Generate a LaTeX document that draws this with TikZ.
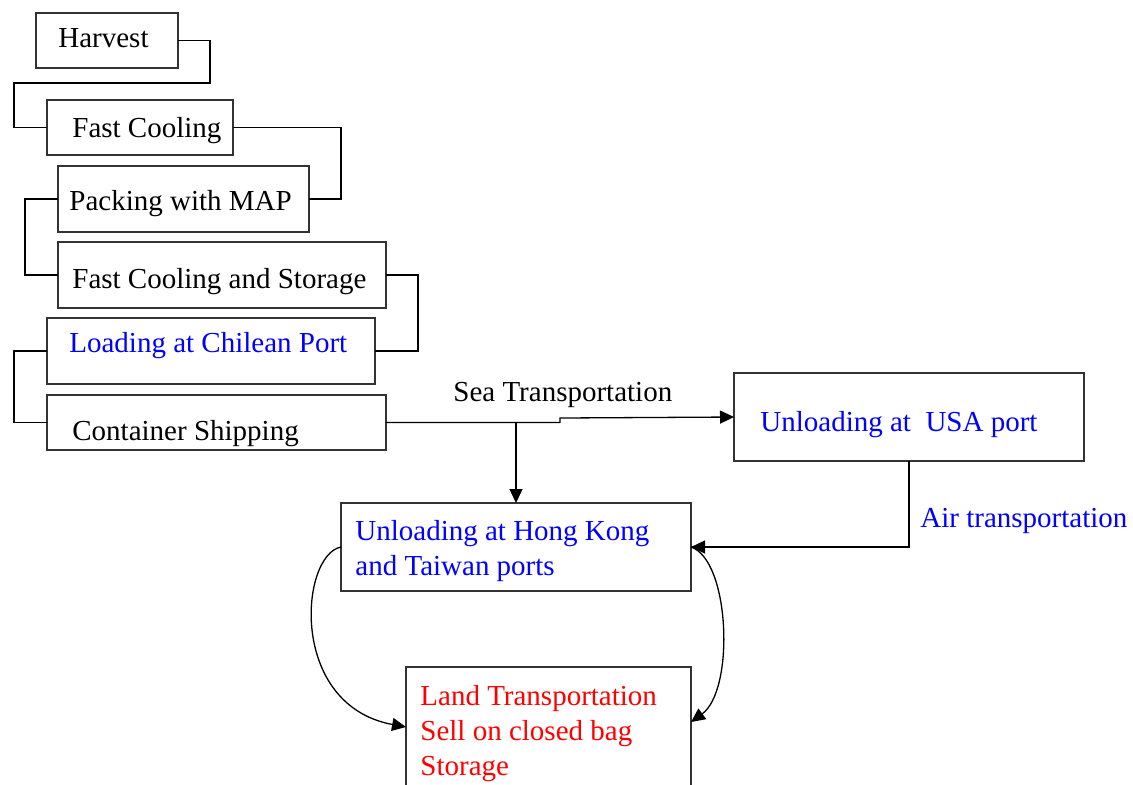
\documentclass[tikz,border=0pt]{standalone}
\usepackage{fontspec}
\setmainfont{Liberation Serif}
\usetikzlibrary{arrows.meta}
\tikzset{
	box/.style={draw=black!80, line width=0.65pt, inner sep=0pt, outer sep=0pt},
	lbl/.style={anchor=base west, inner sep=0pt, font=\fontsize{14.5}{17}\selectfont},
	link/.style={line width=0.65pt},
	arr/.style={link, -{Triangle[length=7pt,width=6.5pt]}}
}
\def\stage(#1)(#2,#3:#4,#5){\node[box, minimum width={(#4-#2)*0.5pt}, minimum height={(#5-#3)*0.5pt}] (#1) at ({(#2+#4)/2},{(#3+#5)/2}) {};}

\begin{document}
\begin{tikzpicture}[x=0.5pt, y=-0.5pt]
		%%%%% START %%%%%
		\useasboundingbox (0,0) rectangle (1133,784);
		
		\stage(harvest)(36,13:178,68);
		\stage(fastcool)(47,100:233,155);
		\stage(packing)(58,166:309,232);
		\stage(coolstore)(58,242:386,308);
		\stage(loading)(47,318:375,384);
		\stage(shipping)(47,395:386,450);
		\stage(usa)(734,373:1084,461);
		\stage(hk)(341,503:691,591);
		\stage(land)(406,667:691,800);
		
		\node[lbl] (t-harvest) at (58,47) {Harvest};
		\node[lbl] (t-fastcool) at (72,137) {Fast Cooling};
		\node[lbl] (t-packing) at (69,210) {Packing with MAP};
		\node[lbl] (t-coolstore) at (72,288) {Fast Cooling and Storage};
		\node[lbl, blue] (t-loading) at (69,352) {Loading at Chilean Port};
		\node[lbl] (t-shipping) at (72,440) {Container Shipping};
		\node[lbl, blue] (t-usa) at (760,431) {Unloading at\ \ USA port};
		\node[lbl, blue] (t-hk1) at (355,540) {Unloading at Hong Kong};
		\node[lbl, blue] (t-hk2) at (355,575) {and Taiwan ports};
		\node[lbl, red] (t-land1) at (420,705) {Land Transportation};
		\node[lbl, red] (t-land2) at (420,740) {Sell on closed bag};
		\node[lbl, red] (t-land3) at (420,775) {Storage};
		
		\node[lbl] (t-sea) at (453,401) {Sea Transportation};
		\node[lbl, blue] (t-air) at (920,527) {Air transportation};
		
		% chain on the left
		\draw[link] (harvest.east) -- (210,40.5) |- (14,83) |- (fastcool.west);
		\draw[link] (fastcool.east) -- (341,127.5) |- (packing.east);
		\draw[link] (packing.west) -- (25,199) |- (coolstore.west);
		\draw[link] (coolstore.east) -- (418,275) |- (loading.east);
		\draw[link] (loading.west) -- (14,351) |- (shipping.west);
		
		% sea and air
		\draw[arr] (shipping.east) -- (560,422.5) -- (560,418) -- (usa.west);
		\draw[arr] (hk.north |- shipping.east) -- (hk.north);
		\draw[arr] (usa.south) |- (hk.east);
		
		% to land
		\draw[arr] (hk.west) .. controls (300,555) and (288,705) .. ([yshift=3.25pt]land.west);
		\draw[arr] (hk.east) .. controls (730,560) and (735,690) .. ([yshift=5.75pt]land.east);
		
		%%%%% END %%%%%
	\end{tikzpicture}
\end{document}
